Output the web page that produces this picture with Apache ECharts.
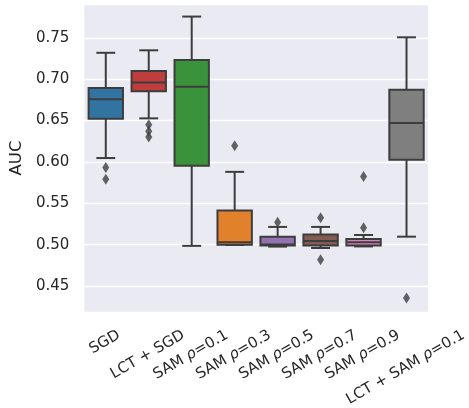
<!DOCTYPE html>
<html>
<head>
<meta charset="utf-8">
<script src="https://cdn.jsdelivr.net/npm/echarts@6/dist/echarts.min.js"></script>
<style>
  html, body { margin: 0; padding: 0; background: #fff; }
  #chart { width: 469px; height: 408px; }
</style>
</head>
<body>
<div id="chart"></div>
<script>
// data
const categories = ['SGD', 'LCT + SGD', 'SAM ρ=0.1', 'SAM ρ=0.3', 'SAM ρ=0.5', 'SAM ρ=0.7', 'SAM ρ=0.9', 'LCT + SAM ρ=0.1']
const lowWhisker = [0.6047, 0.6527, 0.4985, 0.4995, 0.4976, 0.4959, 0.4978, 0.5096]
const q1 = [0.6523, 0.6855, 0.5953, 0.4997, 0.4988, 0.4988, 0.4990, 0.6026]
const median = [0.6758, 0.6962, 0.6910, 0.5030, 0.5000, 0.5045, 0.5030, 0.6470]
const q3 = [0.6894, 0.7100, 0.7234, 0.5412, 0.5094, 0.5122, 0.5067, 0.6874]
const highWhisker = [0.7320, 0.7350, 0.7758, 0.5880, 0.5214, 0.5214, 0.5116, 0.7507]
const outliers = [
  [0.5934, 0.5789],
  [0.6450, 0.6370, 0.6300],
  [],
  [0.6195],
  [0.5270],
  [0.5324, 0.4818],
  [0.5824, 0.5205],
  [0.4353]
]
const yMin = 0.4185
const yMax = 0.791

const boxColors = ['#3274a1', '#c03d3e', '#3a923a', '#e1812c', '#9372b2', '#845b53', '#d684bd', '#7f7f7f']
const edge = '#3d3d3d'
const textColor = '#262626'

let boxData = categories.map((c, i) => [i, lowWhisker[i], q1[i], median[i], q3[i], highWhisker[i]])
let flierData = []
outliers.forEach((list, i) => {
  list.forEach(v => flierData.push([i, v]))
})

function renderBox(params, api) {
  let i = api.value(0)
  let band = api.size([1, 0])[0]
  let half = band * 0.4
  let cap = band * 0.22
  let x = api.coord([i, api.value(3)])[0]
  let yLo = api.coord([i, api.value(1)])[1]
  let yQ1 = api.coord([i, api.value(2)])[1]
  let yMed = api.coord([i, api.value(3)])[1]
  let yQ3 = api.coord([i, api.value(4)])[1]
  let yHi = api.coord([i, api.value(5)])[1]
  let line = { stroke: edge, lineWidth: 2 }
  return {
    type: 'group',
    children: [
      { type: 'line', shape: { x1: x, y1: yHi, x2: x, y2: yQ3 }, style: line },
      { type: 'line', shape: { x1: x, y1: yQ1, x2: x, y2: yLo }, style: line },
      { type: 'line', shape: { x1: x - cap, y1: yHi, x2: x + cap, y2: yHi }, style: line },
      { type: 'line', shape: { x1: x - cap, y1: yLo, x2: x + cap, y2: yLo }, style: line },
      {
        type: 'rect',
        shape: { x: x - half, y: yQ3, width: half * 2, height: yQ1 - yQ3 },
        style: { fill: boxColors[i], stroke: edge, lineWidth: 2 }
      },
      { type: 'line', shape: { x1: x - half, y1: yMed, x2: x + half, y2: yMed }, style: line }
    ]
  }
}

let chart = echarts.init(document.getElementById('chart'))
let option = {
  animation: false,
  grid: {
    left: 84,
    right: 41,
    top: 4,
    bottom: 96,
    show: true,
    backgroundColor: '#eaeaf2',
    borderWidth: 0
  },
  xAxis: {
    type: 'category',
    data: categories,
    boundaryGap: true,
    axisLine: { show: false },
    axisTick: { show: false },
    axisLabel: { show: false },
    splitLine: { show: false }
  },
  yAxis: {
    type: 'value',
    min: yMin,
    max: yMax,
    splitNumber: 7,
    name: 'AUC',
    nameLocation: 'middle',
    nameGap: 57,
    nameTextStyle: { fontSize: 16.5, color: textColor, fontFamily: 'DejaVu Sans' },
    axisLine: { show: false },
    axisTick: { show: false },
    axisLabel: {
      fontSize: 15,
      color: textColor,
      fontFamily: 'DejaVu Sans',
      margin: 15,
      showMinLabel: false,
      showMaxLabel: false,
      formatter: v => v.toFixed(2)
    },
    splitLine: { show: true, lineStyle: { color: '#ffffff', width: 1.3 } }
  },
  series: [
    {
      type: 'custom',
      renderItem: renderBox,
      encode: { x: 0, y: [1, 2, 3, 4, 5] },
      data: boxData,
      z: 2
    },
    {
      type: 'scatter',
      data: flierData,
      symbol: 'diamond',
      symbolSize: [7, 11],
      itemStyle: { color: edge },
      z: 3
    }
  ]
}
chart.setOption(option)

// rotated x labels, centred under each tick like matplotlib
let ctx = document.createElement('canvas').getContext('2d')
ctx.font = '15px "DejaVu Sans"'
let axisBottom = chart.convertToPixel({ yAxisIndex: 0 }, yMin)
let labels = categories.map((c, i) => {
  let L = ctx.measureText(c).width
  let x = chart.convertToPixel({ xAxisIndex: 0 }, c)
  let txt = c.replace('ρ', '{r|ρ}')
  return {
    type: 'text',
    x: x - 1,
    y: axisBottom + 22 + L * 0.25,
    rotation: Math.PI / 6,
    style: {
      text: txt,
      font: '15px "DejaVu Sans"',
      fill: textColor,
      align: 'center',
      verticalAlign: 'middle',
      textAlign: 'center',
      textVerticalAlign: 'middle',
      rich: { r: { fontStyle: 'italic', fontSize: 15, fontFamily: 'DejaVu Sans', fill: textColor, color: textColor } }
    }
  }
})
chart.setOption({ graphic: labels })
</script>
</body>
</html>
